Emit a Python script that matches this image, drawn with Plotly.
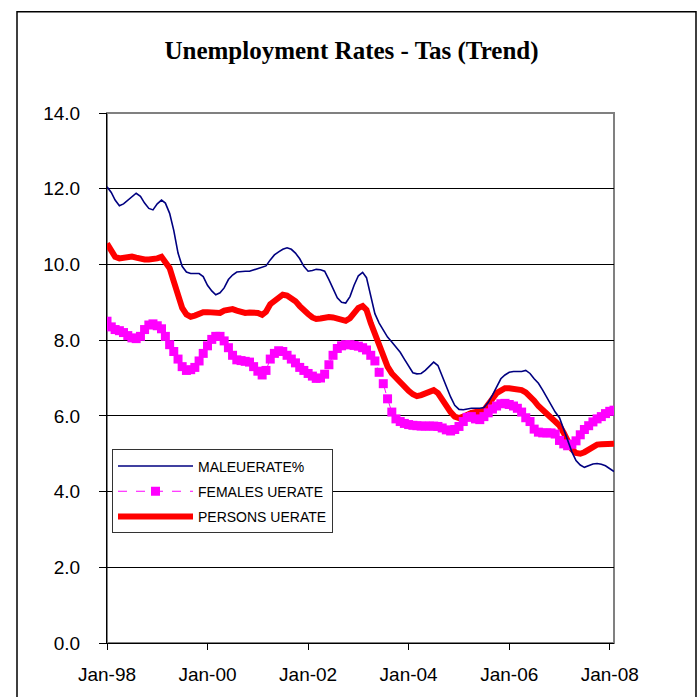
import pandas as pd
import plotly.graph_objects as go

# Monthly data, Jan-1998 .. Feb-2008
start_month = "1998-01-01"
n_months = 122

male_rate = [
    12.05, 11.9, 11.7, 11.55, 11.6, 11.7, 11.8, 11.88, 11.8, 11.62,
    11.48, 11.44, 11.6, 11.7, 11.62, 11.35, 10.9, 10.3, 9.95, 9.8,
    9.76, 9.76, 9.76, 9.68, 9.45, 9.3, 9.2, 9.25, 9.38, 9.6,
    9.72, 9.8, 9.82, 9.82, 9.82, 9.86, 9.9, 9.93, 9.96, 10.12,
    10.25, 10.33, 10.4, 10.44, 10.4, 10.3, 10.15, 9.95, 9.82, 9.84,
    9.87, 9.86, 9.82, 9.6, 9.38, 9.12, 9.0, 8.98, 9.15, 9.45,
    9.7, 9.79, 9.65, 9.2, 8.7, 8.45, 8.25, 8.08, 7.95, 7.82,
    7.68, 7.5, 7.3, 7.14, 7.11, 7.12, 7.2, 7.32, 7.42, 7.33,
    7.05, 6.75, 6.5, 6.28, 6.17, 6.16, 6.18, 6.2, 6.2, 6.2,
    6.22, 6.35, 6.55, 6.78, 6.98, 7.08, 7.15, 7.17, 7.17, 7.17,
    7.2, 7.12, 6.98, 6.86, 6.68, 6.48, 6.3, 6.1, 5.95, 5.65,
    5.38, 5.05, 4.82, 4.7, 4.64, 4.68, 4.73, 4.74, 4.72, 4.68,
    4.6, 4.53,
]

females_rate = [
    8.5, 8.35, 8.28, 8.25, 8.2, 8.12, 8.06, 8.04, 8.1, 8.28,
    8.4, 8.43, 8.38, 8.3, 8.1, 7.88, 7.7, 7.5, 7.3, 7.2,
    7.22, 7.28, 7.45, 7.65, 7.85, 8.02, 8.1, 8.1, 7.98, 7.8,
    7.6, 7.48, 7.46, 7.44, 7.42, 7.3, 7.18, 7.08, 7.2, 7.5,
    7.65, 7.72, 7.7, 7.6, 7.5, 7.4, 7.28, 7.2, 7.12, 7.05,
    6.99, 7.0, 7.1, 7.35, 7.6, 7.78, 7.85, 7.88, 7.88, 7.86,
    7.84, 7.8, 7.74, 7.6, 7.45, 7.15, 6.85, 6.45, 6.1, 5.92,
    5.85, 5.8, 5.77, 5.75, 5.74, 5.73, 5.73, 5.73, 5.73, 5.72,
    5.68, 5.63, 5.6, 5.64, 5.72, 5.85, 5.96, 5.98, 5.92, 5.9,
    5.98, 6.08, 6.18, 6.26, 6.32, 6.33, 6.3, 6.26, 6.2, 6.1,
    5.95, 5.85, 5.65, 5.57, 5.55, 5.55, 5.55, 5.52, 5.35, 5.26,
    5.21, 5.25, 5.34, 5.5, 5.64, 5.74, 5.84, 5.92, 5.98, 6.06,
    6.12, 6.15,
]

persons_rate = [
    10.55, 10.35, 10.2, 10.16, 10.18, 10.2, 10.21, 10.18, 10.14, 10.13,
    10.13, 10.13, 10.16, 10.2, 10.08, 9.9, 9.55, 9.2, 8.85, 8.68,
    8.62, 8.65, 8.7, 8.74, 8.74, 8.72, 8.7, 8.72, 8.78, 8.82,
    8.82, 8.78, 8.74, 8.72, 8.73, 8.74, 8.72, 8.67, 8.75, 8.95,
    9.05, 9.12, 9.2, 9.18, 9.1, 9.03, 8.9, 8.78, 8.69, 8.6,
    8.56, 8.57, 8.6, 8.61, 8.6, 8.57, 8.53, 8.51, 8.58, 8.72,
    8.85, 8.9, 8.8, 8.45, 8.15, 7.9, 7.55, 7.3, 7.12, 7.0,
    6.88, 6.77, 6.66, 6.57, 6.52, 6.55, 6.6, 6.64, 6.68, 6.6,
    6.42, 6.25, 6.1, 5.98, 5.94, 5.98, 6.04, 6.08, 6.1, 6.1,
    6.15, 6.28, 6.45, 6.6, 6.68, 6.73, 6.73, 6.72, 6.7, 6.68,
    6.62, 6.52, 6.4, 6.26, 6.14, 6.04, 5.95, 5.85, 5.74, 5.55,
    5.3, 5.12, 5.02, 5.0, 5.04, 5.12, 5.2, 5.24, 5.25, 5.26,
    5.26, 5.26,
]

series_names = ["MALEUERATE%", "FEMALES UERATE", "PERSONS UERATE"]
tick_dates = ["1998-01-01", "2000-01-01", "2002-01-01", "2004-01-01",
              "2006-01-01", "2008-01-01"]
tick_labels = ["Jan-98", "Jan-00", "Jan-02", "Jan-04", "Jan-06", "Jan-08"]
y_ticks = [0, 2, 4, 6, 8, 10, 12, 14]

months = pd.date_range(start_month, periods=n_months, freq="MS")

fig = go.Figure()
fig.add_trace(go.Scatter(
    x=months, y=persons_rate, name=series_names[2], mode="lines",
    line=dict(color="#FF0000", width=6), legendrank=3, legendgroup="p",
))
fig.add_trace(go.Scatter(
    x=months, y=females_rate, name=series_names[1], mode="lines+markers",
    line=dict(color="#FF00FF", width=1, dash="dash"),
    marker=dict(symbol="square", size=9, color="#FF00FF"),
    legendrank=2, legendgroup="f",
))
fig.add_trace(go.Scatter(
    x=months, y=male_rate, name=series_names[0], mode="lines",
    line=dict(color="#000080", width=1.6), legendrank=1, legendgroup="m",
))

L, R, T, B = 107, 83, 113, 50
W = 697 - L - R
H = 697 - T - B

fig.update_layout(
    width=697, height=697,
    margin=dict(l=L, r=R, t=T, b=B, pad=0),
    paper_bgcolor="white", plot_bgcolor="white",
    font=dict(family="Liberation Sans, Arial, sans-serif", color="black"),
    title=dict(
        text="<b>Unemployment Rates - Tas (Trend)</b>",
        font=dict(family="Liberation Serif, Times New Roman, serif", size=25, color="black"),
        x=351.5 / 697, xref="container", xanchor="center",
        y=1 - 50 / 697, yref="container", yanchor="middle",
    ),
    showlegend=True,
    legend=dict(
        x=(112 - L) / W, y=(647 - 452) / H, xanchor="left", yanchor="top",
        bgcolor="white", bordercolor="#333333", borderwidth=1,
        font=dict(size=14, family="Liberation Sans, Arial, sans-serif"),
        itemwidth=75, tracegroupgap=4, traceorder="grouped",
    ),
    xaxis=dict(
        type="date",
        range=["1998-01-01", "2008-02-01"],
        tickmode="array", tickvals=tick_dates, ticktext=tick_labels,
        ticks="outside", ticklen=6, tickcolor="black", tickwidth=1,
        showline=True, linecolor="black", linewidth=1,
        showgrid=False, zeroline=False,
        tickfont=dict(size=19), ticklabelstandoff=8,
    ),
    yaxis=dict(
        range=[0, 14], tickmode="array", tickvals=y_ticks,
        tickformat=".1f",
        ticks="outside", ticklen=7, tickcolor="black", tickwidth=1,
        showline=True, linecolor="black", linewidth=1,
        showgrid=True, gridcolor="black", gridwidth=1,
        zeroline=False, tickfont=dict(size=19), ticklabelstandoff=15,
    ),
    shapes=[
        dict(type="rect", xref="paper", yref="paper", x0=0, x1=1, y0=0, y1=1,
             line=dict(color="#808080", width=2), layer="below"),
        dict(type="rect", xref="paper", yref="paper",
             x0=(17 - L) / W, x1=(696 - L) / W,
             y0=(647 - 720) / H, y1=(647 - 11) / H,
             line=dict(color="black", width=1.5), layer="below"),
    ],
)

fig.write_html(
    "out.html",
    config={"displayModeBar": False},
    post_script="document.body.style.margin='0';document.body.style.overflow='hidden';",
)
